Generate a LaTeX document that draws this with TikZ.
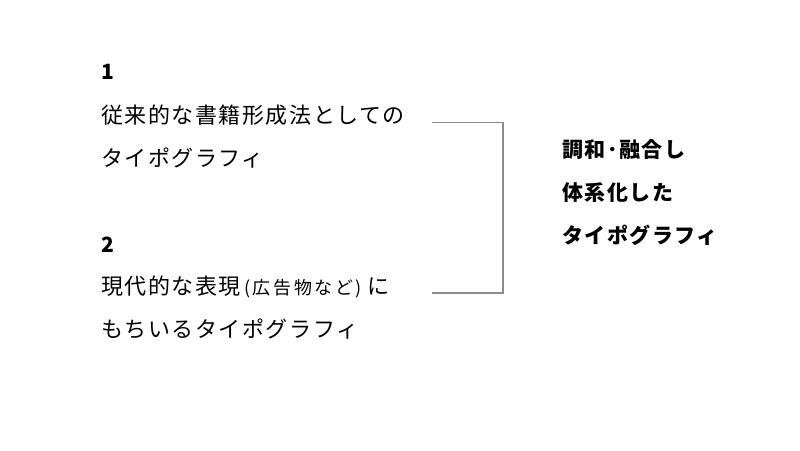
\documentclass[tikz,border=0pt]{standalone}
\usepackage{fontspec}
\setmainfont{Noto Sans CJK JP}[LetterSpace=7]
\newcommand{\parsmall}[1]{{\fontsize{18}{18}\selectfont\addfontfeatures{LetterSpace=14}#1}}
\begin{document}
\begin{tikzpicture}[x=1pt,y=-1pt,
  txt/.style={anchor=base west,inner sep=0pt,font=\fontsize{22}{22}\selectfont,text=black},
  hd/.style={anchor=base west,inner sep=0pt,font=\fontsize{21}{21}\selectfont\bfseries,text=black},
  bracket/.style={draw=black!45,line width=1.1pt}]
\useasboundingbox[fill=white] (0,0) rectangle (800,450);
\node[hd]  (n1)  at (101,79)  {1};
\node[txt] (t1a) at (101,123) {従来的な書籍形成法としての};
\node[txt] (t1b) at (101,166) {タイポグラフィ};
\node[hd]  (n2)  at (101,252) {2};
\node[txt] (t2a) at (101,294) {現代的な表現\kern4pt\parsmall{(\kern2pt 広告物など)}\kern6pt に};
\node[txt] (t2b) at (101,337) {もちいるタイポグラフィ};
\node[hd]  (r1)  at (562,157) {調和･融合し};
\node[hd]  (r2)  at (562,200) {体系化した};
\node[hd]  (r3)  at (562,243) {タイポグラフィ};
\coordinate (b1) at (432,122.5);
\coordinate (b2) at (432,293);
\coordinate (bc) at (503,208);
\draw[bracket] (b1) -| (bc) |- (b2);
\end{tikzpicture}
\end{document}
